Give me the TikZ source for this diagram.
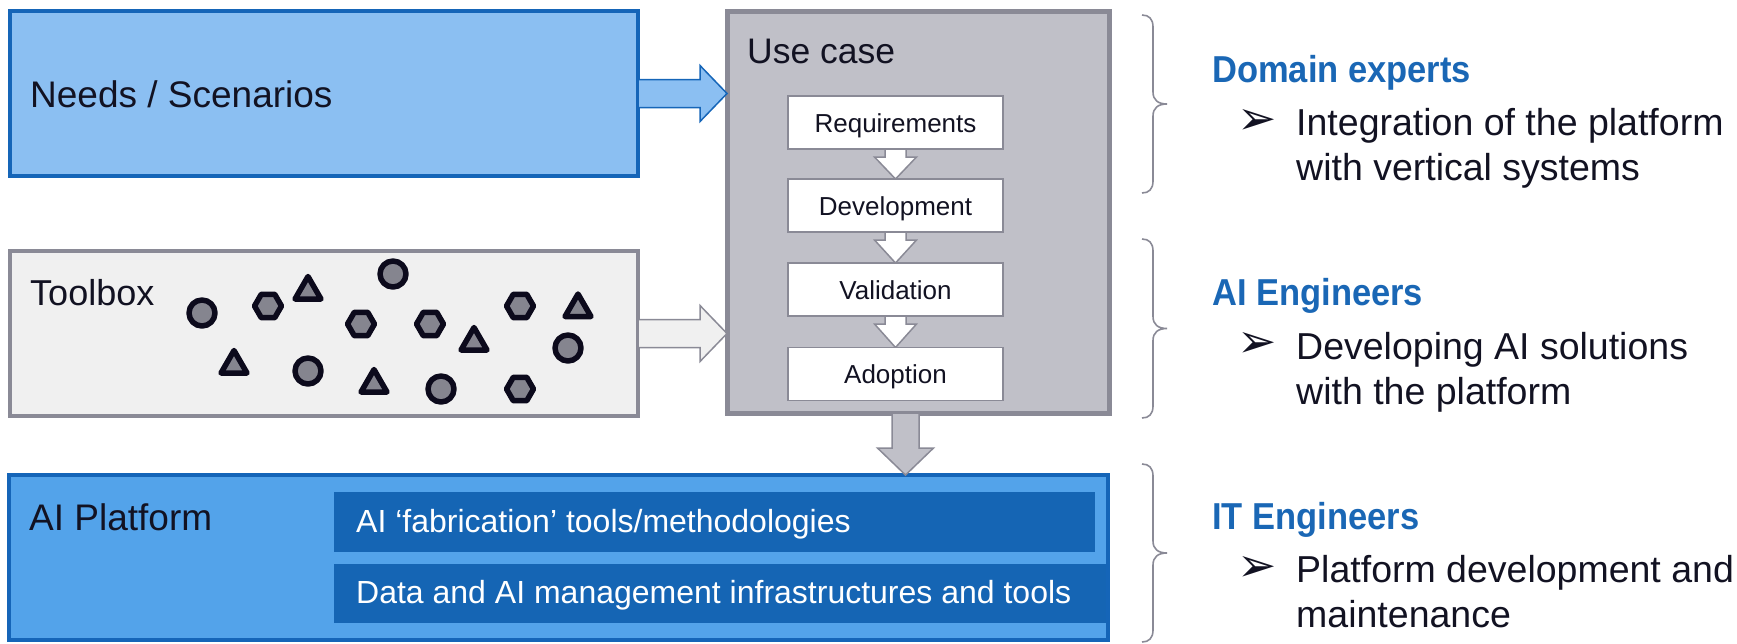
\documentclass[tikz,border=0pt]{standalone}
\usepackage{fontspec}
\setmainfont{Liberation Sans}
\newfontfamily\headfont[FakeStretch=0.92]{Liberation Sans}
\newfontfamily\symfont{DejaVu Sans}
\usetikzlibrary{calc,shapes.geometric}
\pgfdeclarelayer{bg}
\pgfdeclarelayer{mid}
\pgfsetlayers{bg,mid,main}

\definecolor{needsfill}{HTML}{8BBFF2}
\definecolor{blueline}{HTML}{1565B8}
\definecolor{platfill}{HTML}{53A3EA}
\definecolor{darkblue}{HTML}{1565B4}
\definecolor{greyline}{HTML}{8A8A96}
\definecolor{toolfill}{HTML}{F0F0F0}
\definecolor{casefill}{HTML}{C0C0C8}
\definecolor{ink}{HTML}{121222}
\definecolor{tokenfill}{HTML}{85858F}
\definecolor{tokenline}{HTML}{0C0A1C}
\definecolor{headblue}{HTML}{1A67B5}

\newcommand\fs[1]{\fontsize{#1}{#1}\selectfont}

% right-hand curly brace between two heights
\newcommand\sidebrace[2]{%
  \pgfmathsetmacro\bmid{(#1+#2)/2}%
  \draw[bracestyle] (1142,#1) .. controls (1149,#1) and (1153,#1+4) .. (1153,#1+12)
    -- (1153,\bmid-12) .. controls (1153,\bmid-4) and (1158,\bmid) .. (1167,\bmid)
    .. controls (1158,\bmid) and (1153,\bmid+4) .. (1153,\bmid+12)
    -- (1153,#2-12) .. controls (1153,#2-4) and (1149,#2) .. (1142,#2);}

% white block arrow between two stacked stages
\newcommand\stagestep[2]{%
  \draw[stagearrow] ($(#1.south)+(-10.5,0)$) -- ($(#1.south)+(-10.5,8)$)
    -- ($(#1.south)+(-21,8)$) -- (#2.north) -- ($(#1.south)+(21,8)$)
    -- ($(#1.south)+(10.5,8)$) -- ($(#1.south)+(10.5,0)$) -- cycle;}

% wide block arrow from a left panel into the use case box
\newcommand\feedarrow[3]{%
  \draw[#3] ($(#1.east)+(0,-14)$) -- ($(#1.east)+(62,-14)$)
    -- ($(#1.east)+(62,-28)$) -- (#1.east -| #2.west)
    -- ($(#1.east)+(62,28)$) -- ($(#1.east)+(62,14)$)
    -- ($(#1.east)+(0,14)$) -- cycle;}

\begin{document}
\begin{tikzpicture}[x=1pt,y=-1pt,
  panel/.style={rectangle, inner sep=0pt, outer sep=0pt, line width=4pt},
  stage/.style={rectangle, draw=greyline, fill=white, line width=1.6pt,
    minimum width=215pt, minimum height=53pt, inner sep=0pt, outer sep=0pt,
    font=\fs{26}, text=ink, text height=19pt, text depth=0pt},
  layer/.style={rectangle, fill=darkblue, inner sep=0pt, outer sep=0pt},
  stagearrow/.style={draw=greyline, fill=white, line width=1.5pt},
  needsarrow/.style={draw=blueline, fill=needsfill, line width=1.5pt},
  toolarrow/.style={draw=greyline, fill=toolfill, line width=1.5pt},
  casearrow/.style={draw=greyline, fill=casefill, line width=1.5pt},
  bracestyle/.style={draw=greyline, line width=1.6pt},
  token/.style={draw=tokenline, fill=tokenfill, line width=5.5pt, inner sep=0pt,
    outer sep=0pt, line join=round},
  disc/.style={token, circle, minimum size=26pt},
  hexa/.style={token, regular polygon, regular polygon sides=6, minimum size=27pt},
  tri/.style={token, regular polygon, regular polygon sides=3, minimum size=30pt},
  title/.style={anchor=base west, inner sep=0pt, text=ink},
  role/.style={anchor=base west, inner sep=0pt, text=headblue, font=\headfont\bfseries\fs{37.5}},
  duty/.style={anchor=base west, inner sep=0pt, text=ink, font=\fs{37.5}},
  tick/.style={anchor=west, inner sep=0pt, text=ink, font=\symfont\fs{47}}
]
\useasboundingbox (0,0) rectangle (1737,643);

% ---- large panels
\begin{pgfonlayer}{bg}
  \node[panel, draw=blueline, fill=needsfill, minimum width=628pt, minimum height=165pt] (needs) at (324,93.5) {};
  \node[panel, draw=greyline, fill=toolfill, minimum width=628pt, minimum height=165pt] (toolbox) at (324,333.5) {};
  \node[panel, draw=greyline, fill=casefill, line width=5pt, minimum width=382pt, minimum height=402pt] (usecase) at (918,212) {};
  \node[panel, draw=blueline, fill=platfill, minimum width=1099pt, minimum height=165pt] (platform) at (558.5,557.5) {};
\end{pgfonlayer}

% ---- panel titles
\node[title, font=\fs{37}] (needstxt) at (30,107) {Needs / Scenarios};
\node[title, font=\fs{36}] (tooltxt) at (30,305) {Toolbox};
\node[title, font=\fs{35.5}] (casetxt) at (747,63) {Use case};
\node[title, font=\fs{37}] (plattxt) at (29,530) {AI Platform};

% ---- use case stages
\node[stage] (req) at (895.5,122.5) {Requirements};
\node[stage] (dev) at (895.5,205.5) {Development};
\node[stage] (val) at (895.5,289.5) {Validation};
\node[stage] (adopt) at (895.5,374) {Adoption};

% ---- platform layers
\node[layer, minimum width=761pt, minimum height=60pt] (fab) at (714.5,522) {};
\node[layer, minimum width=772pt, minimum height=59pt] (data) at (720,593.5) {};
\node[anchor=base west, inner sep=0pt, text=white, font=\fs{32}] (fabtxt) at (356,532) {AI ‘fabrication’ tools/methodologies};
\node[anchor=base west, inner sep=0pt, text=white, font=\fs{32}] (datatxt) at (356,603) {Data and AI management infrastructures and tools};

% ---- toolbox contents
\node[disc] (c1) at (202,313) {};
\node[disc] (c2) at (393,274) {};
\node[disc] (c3) at (308,371) {};
\node[disc] (c4) at (441,389) {};
\node[disc] (c5) at (568,348) {};
\node[hexa] (h1) at (268,306) {};
\node[hexa] (h2) at (361,324) {};
\node[hexa] (h3) at (430,324) {};
\node[hexa] (h4) at (520,306) {};
\node[hexa] (h5) at (520,389) {};
\node[tri] (t1) at (308,291.5) {};
\node[tri] (t2) at (234,365.5) {};
\node[tri] (t3) at (374,384.5) {};
\node[tri] (t4) at (474,342.5) {};
\node[tri] (t5) at (578,309) {};

% ---- connectors
\begin{pgfonlayer}{mid}
  \feedarrow{needs}{usecase}{needsarrow}
  \feedarrow{toolbox}{usecase}{toolarrow}
  \stagestep{req}{dev}
  \stagestep{dev}{val}
  \stagestep{val}{adopt}
  \coordinate (dtop) at ($(usecase.south)+(-12.5,0)$);
  \draw[casearrow] ($(dtop)+(-13.5,0)$) -- ($(dtop)+(-13.5,35)$) -- ($(dtop)+(-28,35)$)
    -- (dtop |- platform.north) -- ($(dtop)+(28,35)$) -- ($(dtop)+(13.5,35)$)
    -- ($(dtop)+(13.5,0)$) -- cycle;
\end{pgfonlayer}

% ---- roles
\sidebrace{15}{193}
\sidebrace{239}{418}
\sidebrace{464}{642}

\node[role] (r1) at (1212,82) {Domain experts};
\node[tick] (b1) at (1237,122) {➢};
\node[duty] (d1a) at (1296,135) {Integration of the platform};
\node[duty] (d1b) at (1296,180) {with vertical systems};

\node[role] (r2) at (1212,305) {AI Engineers};
\node[tick] (b2) at (1237,345) {➢};
\node[duty] (d2a) at (1296,359) {Developing AI solutions};
\node[duty] (d2b) at (1296,404) {with the platform};

\node[role] (r3) at (1212,529) {IT Engineers};
\node[tick] (b3) at (1237,569) {➢};
\node[duty] (d3a) at (1296,582) {Platform development and};
\node[duty] (d3b) at (1296,627) {maintenance};
\end{tikzpicture}
\end{document}
